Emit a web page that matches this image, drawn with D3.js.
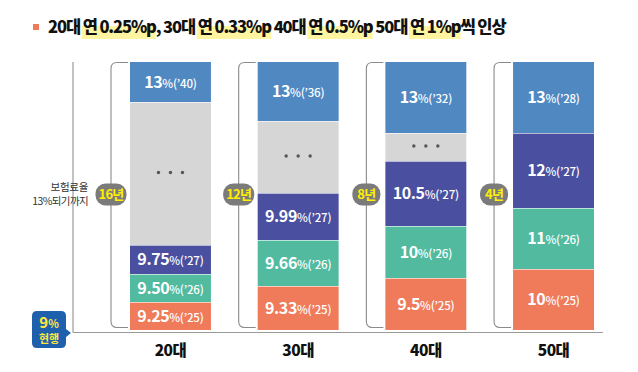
<!DOCTYPE html>
<html>
<head>
<meta charset="utf-8">
<script src="https://cdn.jsdelivr.net/npm/d3@7"></script>
<style>
  body { margin: 0; background: #fff; }
  svg text { font-family: "Noto Sans CJK KR", "Noto Sans", sans-serif; }
</style>
</head>
<body>
<div id="chart"></div>
<script>
// age groups and how long until 13%
var groups = ["20대", "30대", "40대", "50대"];
var spans = ["16년", "12년", "8년", "4년"];

// segments bottom -> top : rate, year ('' rate = gap with dots)
var rates20 = [["9.25", "25"], ["9.50", "26"], ["9.75", "27"], ["", ""], ["13", "40"]];
var rates30 = [["9.33", "25"], ["9.66", "26"], ["9.99", "27"], ["", ""], ["13", "36"]];
var rates40 = [["9.5", "25"], ["10", "26"], ["10.5", "27"], ["", ""], ["13", "32"]];
var rates50 = [["10", "25"], ["11", "26"], ["12", "27"], ["", ""], ["13", "28"]];

// schematic block heights (relative units, bottom -> top)
var units20 = [28, 28, 29, 143, 40];
var units30 = [44, 46, 47, 72, 59];
var units40 = [52, 52, 65, 28, 71];
var units50 = [61, 61, 75, 0, 71];

var segColors = ["#ef7b5a", "#52bb9f", "#4a4f9f", "#d6d6d6", "#5088c2"];

var title = [["20대 ", false], ["연 0.25%p", true], [", 30대 ", false], ["연 0.33%p", true], [" 40대 ", false],
  ["연 0.5%p", true], [" 50대 ", false], ["연 1%p", true], ["씩 인상", false]];

var W = 638, H = 372;
var svg = d3.select("#chart").append("svg").attr("width", W).attr("height", H);

var x = d3.scaleBand().domain(groups).range([130, 594]).paddingInner(0.366).paddingOuter(0);
var y = d3.scaleLinear().domain([0, 268]).range([330, 62]);

// title
var tg = svg.append("g");
tg.append("rect").attr("x", 33).attr("y", 24).attr("width", 6).attr("height", 6).attr("fill", "#ef7b5a");
var tt = tg.append("text").attr("x", 48).attr("y", 33).attr("font-size", 16.5).attr("font-weight", 900)
  .attr("fill", "#111").attr("letter-spacing", -1.1).style("white-space", "pre");
tt.selectAll("tspan").data(title).enter().append("tspan").text(function(d) { return d[0]; });
// yellow highlight behind selected words
var offset = 0;
title.forEach(function(d) {
  if (d[1]) {
    var a = tt.node().getExtentOfChar(offset);
    var b = tt.node().getExtentOfChar(offset + d[0].length - 1);
    tg.insert("rect", "text").attr("x", a.x - 1).attr("y", 26).attr("width", b.x + b.width - a.x + 1)
      .attr("height", 13).attr("fill", "#fff5a0");
  }
  offset += d[0].length;
});

// axes lines
svg.append("line").attr("x1", 73).attr("x2", 73).attr("y1", 62).attr("y2", 332.5)
  .attr("stroke", "#9a9a9a").attr("stroke-width", 1.2);
svg.append("line").attr("x1", 73).attr("x2", 603).attr("y1", 332.5).attr("y2", 332.5)
  .attr("stroke", "#9a9a9a").attr("stroke-width", 1.2);

// left caption
svg.append("text").attr("x", 88).attr("y", 191).attr("text-anchor", "end").attr("font-size", 10.5)
  .attr("fill", "#333").attr("letter-spacing", -0.3).text("보험료율");
svg.append("text").attr("x", 88).attr("y", 205).attr("text-anchor", "end").attr("font-size", 10.5)
  .attr("fill", "#333").attr("letter-spacing", -0.6).text("13%되기까지");

var allRates = [rates20, rates30, rates40, rates50];
var allUnits = [units20, units30, units40, units50];

groups.forEach(function(g, gi) {
  var units = allUnits[gi], rates = allRates[gi];
  var cum = 0;
  var segs = units.map(function(u, i) {
    var s = { y0: cum, y1: cum + u, rate: rates[i][0], yr: rates[i][1], color: segColors[i], i: i };
    cum += u;
    return s;
  }).filter(function(s) { return s.y1 > s.y0; });

  var bx = x(g), bw = x.bandwidth();
  var gg = svg.append("g");
  gg.selectAll("rect.seg").data(segs).enter().append("rect")
    .attr("class", "seg")
    .attr("x", bx).attr("width", bw)
    .attr("y", function(d) { return y(d.y1) + (d.y1 < 268 ? 0.6 : 0); })
    .attr("height", function(d) { return y(d.y0) - y(d.y1) - (d.y1 < 268 ? 0.6 : 0); })
    .attr("fill", function(d) { return d.color; });

  segs.forEach(function(d) {
    var cy = (y(d.y0) + y(d.y1)) / 2;
    if (!d.rate) {
      gg.selectAll(null).data([-12, 0, 12]).enter().append("circle")
        .attr("cx", function(o) { return bx + bw / 2 + o; }).attr("cy", cy - 1).attr("r", 1.7)
        .attr("fill", "#555");
      return;
    }
    var t = gg.append("text").attr("x", bx + bw / 2).attr("y", cy + 5.5).attr("text-anchor", "middle")
      .attr("fill", "#fff").attr("font-weight", 700);
    t.append("tspan").attr("font-size", 16).attr("letter-spacing", -0.4).text(d.rate);
    t.append("tspan").attr("font-size", 11.5).attr("font-weight", 500).attr("letter-spacing", -0.2)
      .text("%(’" + d.yr + ")");
  });

  // bracket
  var bl = bx - 19, br = bx - 2, top = 62.5, bot = 327.5, r = 6;
  gg.append("path")
    .attr("d", "M" + br + "," + top + " H" + (bl + r) + " Q" + bl + "," + top + " " + bl + "," + (top + r) +
      " V" + (bot - r) + " Q" + bl + "," + bot + " " + (bl + r) + "," + bot + " H" + br)
    .attr("fill", "none").attr("stroke", "#8a8a8a").attr("stroke-width", 1.1);

  // span pill
  var pw = spans[gi].length > 2 ? 31 : 28;
  gg.append("rect").attr("x", bl - pw / 2).attr("y", 183.5).attr("width", pw).attr("height", 22).attr("rx", 10)
    .attr("fill", "#7b7b7b");
  gg.append("text").attr("x", bl).attr("y", 199).attr("text-anchor", "middle").attr("font-size", 13)
    .attr("font-weight", 700).attr("fill", "#fff000").attr("letter-spacing", -0.8).text(spans[gi]);

  // group label
  gg.append("text").attr("x", bx + bw / 2).attr("y", 356).attr("text-anchor", "middle")
    .attr("font-size", 15.5).attr("font-weight", 900).attr("fill", "#111").attr("letter-spacing", -0.5).text(g);
});

// current rate badge
var badge = svg.append("g");
badge.append("path")
  .attr("d", "M37,311 H61 Q66,311 66,316 V329 L71,333 L66,337 V343 Q66,348 61,348 H37 Q32,348 32,343 V316 Q32,311 37,311 Z")
  .attr("fill", "#1f60ad");
var bt = badge.append("text").attr("x", 49).attr("y", 328).attr("text-anchor", "middle").attr("fill", "#ffe93b")
  .attr("font-weight", 700);
bt.append("tspan").attr("font-size", 15).text("9");
bt.append("tspan").attr("font-size", 11).text("%");
badge.append("text").attr("x", 49).attr("y", 343).attr("text-anchor", "middle").attr("fill", "#ffe93b")
  .attr("font-weight", 700).attr("font-size", 11).text("현행");
</script>
</body>
</html>
